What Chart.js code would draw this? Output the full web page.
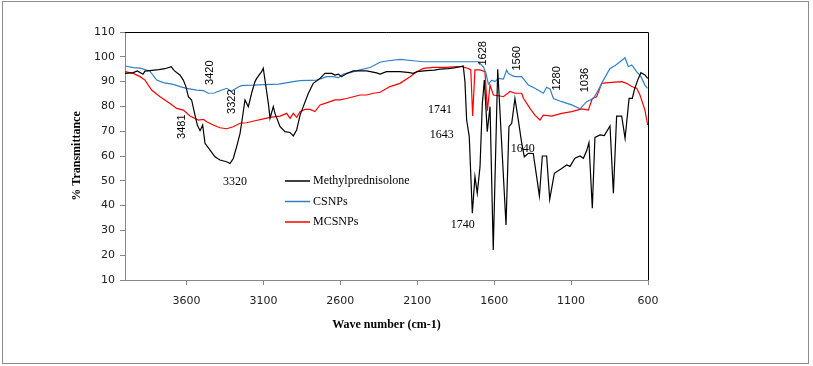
<!DOCTYPE html>
<html>
<head>
<meta charset="utf-8">
<script src="https://cdn.jsdelivr.net/npm/chart.js@4/dist/chart.umd.min.js"></script>
<style>
  body { margin: 0; background: #fff; }
  #wrap { width: 813px; height: 366px; }
</style>
</head>
<body>
<div id="wrap"><canvas id="ftirChart" width="813" height="366"></canvas></div>
<script>
// FTIR spectra (wave number cm-1 vs % transmittance)
var mpWave = [4000,3980,3946,3920,3883,3870,3840,3780,3740,3700,3680,3643,3621,3604,3588,3567,3545,3530,3512,3495,3480,3447,3415,3383,3339,3317,3296,3274,3252,3242,3220,3198,3177,3155,3144,3112,3101,3090,3068,3057,3036,3025,2992,2960,2927,2906,2884,2862,2841,2808,2776,2732,2700,2656,2635,2613,2591,2559,2516,2429,2364,2342,2300,2212,2150,2126,2100,2039,1990,1952,1900,1860,1822,1801,1790,1779,1762,1742,1725,1710,1692,1677,1664,1645,1627,1606,1577,1523,1504,1486,1465,1443,1421,1404,1378,1346,1324,1306,1287,1259,1239,1209,1161,1129,1107,1075,1042,1020,999,984,962,945,912,884,847,825,804,771,749,723,702,689,667,646,620,602];
var mpT = [93.3,93.4,93.6,94.3,93.0,94.2,94.4,94.8,95.2,96.0,94.4,92.7,90.6,88.0,83.9,82.6,76.5,72.5,70.2,72.5,65.1,62.4,59.7,58.4,57.7,57.0,59.0,63.8,69.1,73.2,82.6,79.9,85.3,90.0,91.3,94.0,95.4,90.6,81.2,75.2,79.9,77.2,71.8,69.8,69.5,68.1,70.5,76.5,79.9,85.3,89.3,91.3,93.3,93.3,92.6,93.0,92.0,93.3,94.3,94.3,93.5,93.0,94.0,94.0,93.6,93.3,94.0,94.4,94.6,95.0,95.2,95.5,96.0,96.3,90.0,74.5,67.8,36.9,51.7,45.0,55.7,81.2,90.6,69.8,79.9,22.1,95.0,32.2,71.8,73.2,83.2,74.5,65.2,59.7,61.1,61.0,51.7,43.9,60.0,60.0,42.5,53.0,55.0,56.4,55.8,59.1,60.0,59.1,62.1,65.4,38.9,67.5,68.5,68.2,72.1,45.0,76.1,76.1,67.1,83.2,83.2,86.6,90.6,93.6,92.7,91.3];

var csWave = [4000,3946,3900,3870,3838,3794,3751,3686,3642,3600,3534,3490,3458,3420,3383,3339,3306,3296,3252,3231,3166,3100,3000,2971,2906,2862,2754,2721,2689,2646,2613,2581,2537,2472,2407,2342,2300,2212,2126,2060,1909,1703,1670,1653,1638,1616,1595,1573,1540,1519,1508,1486,1465,1421,1378,1335,1280,1259,1237,1215,1161,1096,1042,999,955,923,890,847,815,782,749,728,706,674,646,620,604];
var csT = [96.3,95.6,95.4,94.8,94.2,90.6,89.6,88.9,88.0,87.3,86.6,86.4,85.3,85.4,86.3,87.3,86.0,86.6,88.2,88.5,88.6,88.8,89.0,89.3,90.0,90.4,90.6,91.3,92.0,92.0,91.6,93.0,93.6,94.7,95.7,97.8,98.3,99.0,98.4,98.0,98.0,98.0,96.0,93.3,89.0,90.6,90.0,91.3,91.0,94.7,93.3,92.5,92.0,92.0,88.6,87.3,85.3,87.7,87.0,83.2,81.9,80.6,79.0,81.9,83.2,86.6,90.6,95.3,96.4,98.0,99.6,96.0,96.7,94.0,92.0,88.6,87.3];

var mcWave = [4000,3946,3902,3870,3827,3772,3707,3664,3621,3577,3523,3490,3469,3426,3383,3339,3296,3252,3209,3155,3100,3057,2992,2949,2927,2906,2884,2862,2830,2797,2765,2732,2700,2667,2635,2603,2559,2516,2472,2429,2386,2342,2277,2212,2147,2104,2060,1996,1909,1844,1811,1768,1752,1740,1725,1692,1660,1644,1627,1605,1562,1540,1497,1465,1421,1410,1367,1335,1302,1281,1226,1161,1096,1031,988,962,934,901,858,815,771,739,706,674,652,620,602];
var mcT = [94.0,93.3,92.0,90.6,86.6,83.9,81.2,79.2,78.5,76.1,74.5,74.8,73.8,72.5,71.4,71.0,71.8,73.2,73.4,74.2,75.0,75.6,76.1,77.2,75.2,77.2,75.6,77.9,78.8,78.8,77.9,80.6,81.2,81.9,82.6,82.6,83.2,83.9,84.6,84.6,85.3,85.7,88.0,89.3,92.0,94.0,95.3,95.7,95.7,96.0,96.0,95.3,94.7,76.1,94.7,94.7,94.0,78.3,88.6,84.6,84.2,83.9,86.0,85.3,85.3,83.3,79.2,76.5,74.5,76.5,76.1,77.2,77.9,79.0,78.5,83.2,83.9,89.3,89.6,89.8,90.0,89.3,88.0,87.3,84.6,78.5,72.5];

var seriesNames = ["Methylprednisolone", "CSNPs", "MCSNPs"];
var seriesColors = ["#000000", "#2f80c8", "#ff0000"];
var waveTicks = [3600, 3100, 2600, 2100, 1600, 1100, 600];

// peak labels: text, wave number, transmittance, rotated?
var peakText = ["3481","3420","3322","3320","1741","1643","1740","1628","1560","1640","1280","1036"];
var peakWave = [3631,3447,3306,3285,1952,1941,1805,1670,1454,1415,1194,1010];
var peakT    = [71.8,93.6,81.9,49.6,78.5,68.5,32.2,101.4,99.4,62.8,91.3,90.6];
var peakRot  = [true,true,true,false,false,false,false,true,true,false,true,true];

function pairs(w, t) {
  return w.map(function (v, i) { return {x: v, y: t[i]}; });
}

var framePlugin = {
  id: "frame",
  beforeDraw: function (chart) {
    var c = chart.ctx;
    c.save();
    c.fillStyle = "#fff";
    c.fillRect(0, 0, chart.width, chart.height);
    c.strokeStyle = "#8c8c8c";
    c.lineWidth = 1;
    c.strokeRect(2.5, 1.5, 806, 362);
    c.restore();
  },
  afterDraw: function (chart) {
    var c = chart.ctx, a = chart.chartArea;
    var xs = chart.scales.x, ys = chart.scales.y;
    c.save();
    // plot box top and right
    c.strokeStyle = "#000";
    c.lineWidth = 1;
    c.beginPath();
    c.moveTo(a.left, a.top + 0.5);
    c.lineTo(a.right + 0.5, a.top + 0.5);
    c.lineTo(a.right + 0.5, a.bottom);
    c.stroke();

    // legend inside the plot
    var lx = a.left + 160, ly = a.top + 149;
    c.font = "12px 'Liberation Serif'";
    c.textBaseline = "middle";
    c.textAlign = "left";
    for (var i = 0; i < seriesNames.length; i++) {
      var y = ly + i * 20.5;
      c.strokeStyle = seriesColors[i];
      c.lineWidth = 1.5;
      c.beginPath();
      c.moveTo(lx, y);
      c.lineTo(lx + 25, y);
      c.stroke();
      c.fillStyle = "#000";
      c.fillText(seriesNames[i], lx + 28, y);
    }

    // peak annotations
    c.fillStyle = "#000";
    c.textAlign = "center";
    c.textBaseline = "middle";
    for (var k = 0; k < peakText.length; k++) {
      var px = xs.getPixelForValue(peakWave[k]);
      var py = ys.getPixelForValue(peakT[k]);
      if (peakRot[k]) {
        c.save();
        c.font = "11px 'Liberation Sans'";
        c.translate(px, py);
        c.rotate(-Math.PI / 2);
        c.fillText(peakText[k], 0, 0);
        c.restore();
      } else {
        c.font = "12px 'Liberation Serif'";
        c.fillText(peakText[k], px, py);
      }
    }
    c.restore();
  }
};

var ctx = document.getElementById("ftirChart").getContext("2d");
var tickFont = {family: "DejaVu Sans", size: 11};
var titleFont = {family: "Liberation Serif", size: 12, weight: "bold"};

var myChart = new Chart(ctx, {
  type: "line",
  data: {
    datasets: [
      {label: seriesNames[0], data: pairs(mpWave, mpT), borderColor: seriesColors[0], borderWidth: 1.2, pointRadius: 0, fill: false, tension: 0},
      {label: seriesNames[1], data: pairs(csWave, csT), borderColor: seriesColors[1], borderWidth: 1.2, pointRadius: 0, fill: false, tension: 0},
      {label: seriesNames[2], data: pairs(mcWave, mcT), borderColor: seriesColors[2], borderWidth: 1.2, pointRadius: 0, fill: false, tension: 0}
    ]
  },
  options: {
    responsive: false,
    animation: false,
    layout: {padding: {left: 60, top: 32, right: 165, bottom: 0}},
    plugins: {legend: {display: false}, tooltip: {enabled: false}},
    scales: {
      x: {
        type: "linear",
        reverse: true,
        min: 600,
        max: 4000,
        afterBuildTicks: function (s) { s.ticks = waveTicks.map(function (v) { return {value: v}; }); },
        afterFit: function (s) { s.height = 86; },
        grid: {drawOnChartArea: false, tickLength: 5, color: "#868686"},
        border: {color: "#868686"},
        ticks: {padding: 10, font: tickFont, color: "#222", maxRotation: 0, autoSkip: false,
                callback: function (v) { return String(v); }},
        title: {display: true, text: "Wave number (cm-1)", font: titleFont, color: "#000", padding: {top: 0, bottom: 34}}
      },
      y: {
        min: 10,
        max: 110,
        afterFit: function (s) { s.width = 65; },
        grid: {drawOnChartArea: false, tickLength: 5, color: "#868686"},
        border: {color: "#868686"},
        ticks: {stepSize: 10, padding: 5, font: tickFont, color: "#222",
                callback: function (v) { return String(v); }},
        title: {display: true, text: "% Transmittance", font: titleFont, color: "#000", padding: {top: 10, bottom: 0}}
      }
    }
  },
  plugins: [framePlugin]
});
</script>
</body>
</html>
